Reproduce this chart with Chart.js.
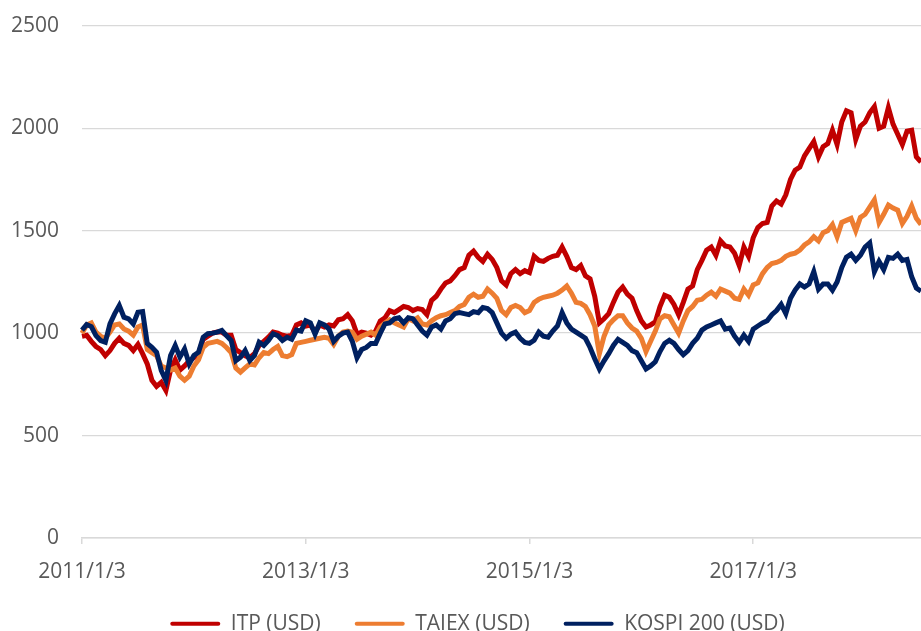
<!DOCTYPE html>
<html>
<head>
<meta charset="utf-8">
<script src="https://cdn.jsdelivr.net/npm/chart.js@4.4.1/dist/chart.umd.min.js"></script>
<style>
  html, body { margin: 0; padding: 0; background: #fff; }
  #wrap { width: 921px; height: 631px; position: relative; }
</style>
</head>
<body>
<div id="wrap"><canvas id="chart"></canvas></div>
<script>
// semi-monthly sample dates, 2011/1/3 .. 2018/7/3
const dates = [];
for (let y = 2011; y <= 2018; y++) {
  for (let m = 1; m <= 12; m++) {
    if (y === 2018 && m > 7) break;
    dates.push(y + "/" + m + "/3");
    if (!(y === 2018 && m === 7)) dates.push(y + "/" + m + "/18");
  }
}
const shownTicks = ["2011/1/3", "2013/1/3", "2015/1/3", "2017/1/3"];
const yTicks = [0, 500, 1000, 1500, 2000, 2500];

const itp = [
  985, 990, 960, 935, 920, 890, 915, 950, 975, 950, 940, 915, 945, 900, 850, 770, 740, 760, 720, 820,
  870, 820, 840, 865, 880, 900, 970, 985, 1000, 1005, 1005, 990, 990, 920, 905, 890, 880, 900, 940, 960,
  980, 1005, 1000, 990, 985,
  990, 1040, 1050, 1035, 1040, 1005, 1040, 1030, 1040, 1035, 1065, 1070, 1090, 1060, 995, 1005, 1000, 990, 1010, 1060,
  1075, 1110, 1100, 1115, 1130, 1125, 1110, 1120, 1115, 1090, 1160, 1180, 1215, 1245, 1255, 1280, 1310, 1320, 1380, 1400,
  1370, 1350, 1385, 1360, 1320, 1255,
  1235, 1290, 1310, 1290, 1305, 1295, 1375, 1355, 1350, 1365, 1375, 1380, 1420, 1375, 1320, 1310, 1330, 1280, 1265, 1180,
  1050, 1070, 1095, 1150, 1200, 1225, 1190, 1170, 1110, 1060, 1030, 1040, 1055, 1130, 1185, 1175, 1140, 1090, 1150, 1215,
  1230, 1310, 1355, 1405, 1420,
  1380, 1450, 1425, 1420, 1390, 1330, 1420, 1375, 1465, 1515, 1535, 1540, 1620, 1645, 1630, 1675, 1750, 1795, 1810, 1865,
  1900, 1935, 1860, 1910, 1925, 1990, 1920, 2030, 2085, 2075, 1945, 2010, 2030, 2075, 2105, 2000, 2010, 2100, 2020, 1970,
  1920, 1985, 1990, 1860, 1835
];
const taiex = [
  1000, 1040, 1050, 1005, 985, 975, 1005, 1040, 1045, 1020, 1010, 990, 1030, 1040, 920, 905, 890, 840, 830, 820,
  830, 790, 770, 790, 840, 870, 930, 950, 955, 960, 950, 930, 905, 830, 810, 830, 850, 845, 880, 905,
  900, 920, 935, 890, 885,
  895, 950, 955, 960, 965, 970, 975, 980, 975, 945, 985, 1005, 1010, 1005, 970, 985, 995, 1005, 990, 1030,
  1050, 1065, 1050, 1040, 1030, 1070, 1060, 1075, 1045, 1040, 1060, 1075, 1085, 1090, 1100, 1110, 1130, 1140, 1175, 1190,
  1175, 1180, 1215, 1195, 1170, 1110,
  1090, 1125, 1135, 1125, 1100, 1110, 1150, 1165, 1175, 1180, 1185, 1195, 1210, 1230, 1195, 1150, 1145, 1130, 1090, 1035,
  900, 985, 1040, 1065, 1085, 1085, 1050, 1025, 1010, 975, 910, 960, 1010, 1070, 1085, 1080, 1040, 1000, 1060, 1110,
  1130, 1160, 1165, 1185, 1200,
  1180, 1215, 1205, 1195, 1170, 1165, 1215, 1185, 1235, 1245, 1290, 1320, 1340, 1345, 1355, 1375, 1385, 1390, 1405, 1430,
  1445, 1470, 1450, 1490, 1500, 1530, 1470, 1540, 1550, 1560, 1500, 1565, 1580, 1615, 1650, 1540, 1580, 1625, 1610, 1600,
  1535, 1570, 1620, 1560, 1530
];
const kospi = [
  1015, 1042, 1032, 988, 964, 956, 1045, 1094, 1135, 1078, 1070, 1045, 1102, 1105, 950, 931, 907, 818, 769, 891,
  940, 883, 923, 850, 891, 907, 980, 997, 1000, 1005, 1013, 988, 964, 866, 883, 915, 866, 891, 956, 940,
  964, 997, 988, 964, 980,
  970, 1015, 1010, 1060, 1050, 995, 1050, 1040, 1020, 960, 985, 1000, 1005, 960, 880, 920, 930, 950, 950, 1000,
  1045, 1050, 1070, 1075, 1050, 1075, 1070, 1040, 1010, 990, 1030, 1040, 1020, 1060, 1070, 1095, 1100, 1095, 1090, 1105,
  1100, 1125, 1120, 1100, 1050, 1000,
  975, 995, 1005, 975, 955, 950, 965, 1005, 985, 980, 1010, 1035, 1100, 1050, 1020, 1005, 990, 975, 930, 875,
  825, 865, 900, 940, 970, 955, 940, 915, 905, 865, 825, 840, 860, 910, 950, 965, 950, 920, 895, 915,
  950, 975, 1015, 1030, 1040,
  1050, 1060, 1020, 1025, 985, 955, 990, 960, 1020, 1035, 1050, 1060, 1090, 1110, 1140, 1095, 1170, 1210, 1240, 1225,
  1240, 1300, 1215, 1240, 1240, 1210, 1250, 1320, 1370, 1385, 1355, 1380, 1420, 1440, 1300, 1350, 1310, 1370, 1365, 1385,
  1355, 1360, 1275, 1220, 1205
];

const font = "'Open Sans', 'Noto Sans', sans-serif";
const textColor = "#595959";
const gridColor = "#d9d9d9";

const series = (label, data, color, order) => ({
  label,
  data,
  borderColor: color,
  backgroundColor: color,
  borderWidth: 5,
  pointRadius: 0,
  tension: 0,
  fill: false,
  order,
});

// legend sits closer to the axis labels (and a bit right) compared with chart.js defaults
const legendShift = {
  id: "legendShift",
  afterLayout(chart) {
    chart.legend.top -= 20;
    chart.legend.bottom -= 20;
    chart.legend.left += 17;
    chart.legend.right += 17;
  },
};

new Chart(document.getElementById("chart"), {
  type: "line",
  data: {
    labels: dates,
    datasets: [
      series("ITP (USD)", itp, "#c00000", 3),
      series("TAIEX (USD)", taiex, "#ed7d31", 2),
      series("KOSPI 200 (USD)", kospi, "#002060", 1),
    ],
  },
  plugins: [legendShift],
  options: {
    responsive: true,
    maintainAspectRatio: false,
    animation: false,
    layout: { padding: { top: 25.7, right: 0, bottom: -33.3, left: 0 } },
    plugins: {
      tooltip: { enabled: false },
      legend: {
        position: "bottom",
        labels: {
          color: textColor,
          font: { size: 21, family: font },
          boxWidth: 50,
          boxHeight: 4,
          padding: 34,
          useBorderRadius: true,
          borderRadius: 2,
          sort: (a, b) => a.datasetIndex - b.datasetIndex,
          generateLabels: (chart) =>
            Chart.defaults.plugins.legend.labels
              .generateLabels(chart)
              .map((l) => ({ ...l, lineWidth: 0 })),
        },
      },
    },
    scales: {
      x: {
        grid: {
          drawOnChartArea: false,
          drawTicks: true,
          tickLength: 6,
          color: gridColor,
          lineWidth: 1.5,
        },
        border: { color: gridColor, width: 1.5 },
        ticks: {
          autoSkip: false,
          maxRotation: 0,
          padding: 15,
          color: textColor,
          font: { size: 21, family: font },
          callback: (v, i) => (shownTicks.includes(dates[i]) ? dates[i] : null),
        },
      },
      y: {
        min: 0,
        max: 2500,
        afterBuildTicks: (scale) => {
          scale.ticks = yTicks.map((v) => ({ value: v }));
        },
        afterFit: (scale) => {
          scale.width = 82;
        },
        grid: {
          color: gridColor,
          lineWidth: 1.3,
          drawTicks: true,
          tickLength: 23,
          tickColor: "rgba(0,0,0,0)",
        },
        border: { display: false },
        ticks: {
          padding: 0,
          color: textColor,
          font: { size: 21, family: font },
          callback: (v) => String(v),
        },
      },
    },
  },
});
</script>
</body>
</html>
